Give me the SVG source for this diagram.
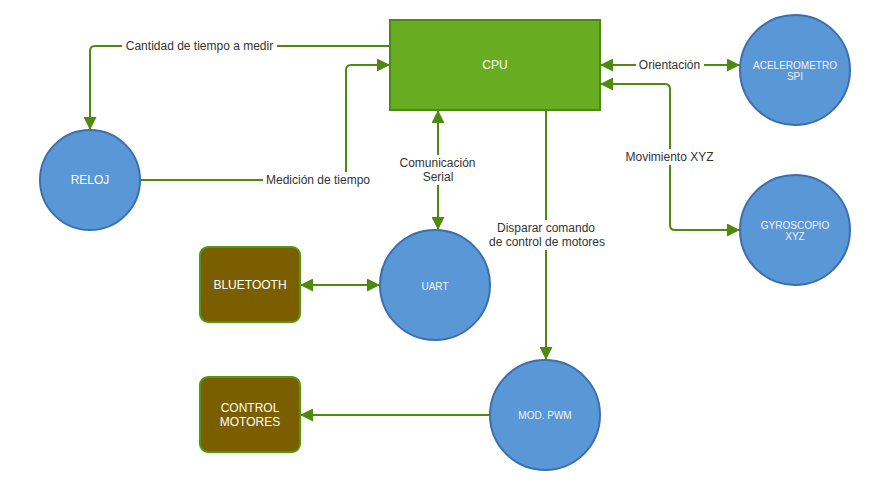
<svg xmlns="http://www.w3.org/2000/svg" width="875" height="490" viewBox="0 0 875 490">
<style>
.edge{fill:none;stroke:#4d8a0d;stroke-width:2}
.circ{fill:#5a97d6;stroke:#3b6fae;stroke-width:2}
.box{fill:#7a5e00;stroke:#4f9a14;stroke-width:2}
.ntxt{font-family:"Liberation Sans",Arial,sans-serif;font-size:12px;fill:#ffffff;text-anchor:middle}
.stxt{font-family:"Liberation Sans",Arial,sans-serif;font-size:10px;fill:#f2f2f2;text-anchor:middle}
.lbl{font-family:"Liberation Sans",Arial,sans-serif;font-size:12px;fill:#333333;text-anchor:middle}
.lbg{fill:#ffffff}
</style>
<defs>
<marker id="arr" viewBox="0 0 13 13" refX="13" refY="6.5" markerWidth="13" markerHeight="13" markerUnits="userSpaceOnUse" orient="auto-start-reverse">
<path d="M0,0 L13,6.5 L0,13 z" fill="#4d8a0d"/>
</marker>
</defs>
<rect width="875" height="490" fill="#ffffff"/>
<g id="connectors">
<path class="edge" d="M390,46 H95 Q90,46 90,51 V130" marker-end="url(#arr)"/>
<path class="edge" d="M140,180 H346 V70 Q346,65 351,65 H390" marker-end="url(#arr)"/>
<path class="edge" d="M438,110 V230" marker-start="url(#arr)" marker-end="url(#arr)"/>
<path class="edge" d="M546,110 V360" marker-end="url(#arr)"/>
<path class="edge" d="M600,65 H740" marker-start="url(#arr)" marker-end="url(#arr)"/>
<path class="edge" d="M600,84 H665 Q670,84 670,89 V225 Q670,230 675,230 H740" marker-start="url(#arr)" marker-end="url(#arr)"/>
<path class="edge" d="M300,285 H380" marker-start="url(#arr)" marker-end="url(#arr)"/>
<path class="edge" d="M490,415 H300" marker-end="url(#arr)"/>
<rect class="lbg" x="122" y="38" width="155" height="16"/>
<text class="lbl" x="199.5" y="50">Cantidad de tiempo a medir</text>
<rect class="lbg" x="263" y="172" width="111" height="16"/>
<text class="lbl" x="318" y="184">Medición de tiempo</text>
<rect class="lbg" x="396" y="155" width="84" height="30"/>
<text class="lbl" x="437.5" y="167">Comunicación</text>
<text class="lbl" x="438" y="181">Serial</text>
<rect class="lbg" x="486" y="220" width="122" height="30"/>
<text class="lbl" x="546" y="232">Disparar comando</text>
<text class="lbl" x="547" y="246">de control de motores</text>
<rect class="lbg" x="636" y="57" width="68" height="16"/>
<text class="lbl" x="669.5" y="69">Orientación</text>
<rect class="lbg" x="623" y="149" width="93" height="16"/>
<text class="lbl" x="669.5" y="161">Movimiento XYZ</text>
</g>
<g id="cpu">
<rect x="390" y="20" width="210" height="90" fill="#68ad21" stroke="#4a8a10" stroke-width="2"/>
<text class="ntxt" x="495" y="69">CPU</text>
</g>
<g id="reloj">
<circle class="circ" cx="90" cy="180" r="50"/>
<text class="ntxt" x="90" y="184">RELOJ</text>
</g>
<g id="acelerometro">
<circle class="circ" cx="795" cy="70" r="55"/>
<text class="stxt" x="795" y="69">ACELEROMETRO</text>
<text class="stxt" x="795" y="80">SPI</text>
</g>
<g id="gyroscopio">
<circle class="circ" cx="795" cy="230" r="55"/>
<text class="stxt" x="795" y="229">GYROSCOPIO</text>
<text class="stxt" x="795" y="240">XYZ</text>
</g>
<g id="uart">
<circle class="circ" cx="435" cy="285" r="55"/>
<text class="stxt" x="435" y="290">UART</text>
</g>
<g id="pwm">
<circle class="circ" cx="545" cy="415" r="55"/>
<text class="stxt" x="545" y="419">MOD. PWM</text>
</g>
<g id="bluetooth">
<rect class="box" x="200" y="247" width="100" height="75" rx="8"/>
<text class="ntxt" x="250" y="289">BLUETOOTH</text>
</g>
<g id="control">
<rect class="box" x="200" y="377" width="100" height="75" rx="8"/>
<text class="ntxt" x="250" y="412">CONTROL</text>
<text class="ntxt" x="250" y="426">MOTORES</text>
</g>
</svg>
